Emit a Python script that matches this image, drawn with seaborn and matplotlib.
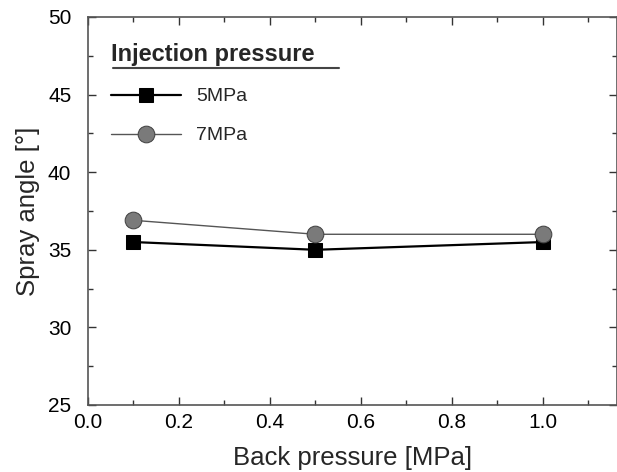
import matplotlib
matplotlib.use("Agg")
import matplotlib.pyplot as plt
import seaborn as sns
import pandas as pd
from matplotlib.ticker import MultipleLocator

back_pressure = [0.1, 0.5, 1.0]
angle_5mpa = [35.5, 35.0, 35.5]
angle_7mpa = [36.9, 36.0, 36.0]
series_labels = ["5MPa", "7MPa"]

sns.set_theme(style="white")
plt.rcParams['font.family'] = ['Liberation Sans', 'DejaVu Sans']

df = pd.DataFrame({
    "x": back_pressure * 2,
    "y": angle_5mpa + angle_7mpa,
    "s": [series_labels[0]] * 3 + [series_labels[1]] * 3,
})

fig = plt.figure(figsize=(6.17, 4.72), dpi=100)
ax = fig.add_axes([88/617, 1 - 405/472, (617-88)/617, (405-17)/472])

sns.lineplot(data=df[df.s == "5MPa"], x="x", y="y", ax=ax, color="black", lw=1.6,
             marker="s", markersize=10, markeredgecolor="black", markerfacecolor="black",
             label="5MPa")
sns.lineplot(data=df[df.s == "7MPa"], x="x", y="y", ax=ax, color="#555555", lw=1.0,
             marker="o", markersize=12, markeredgecolor="#444444", markerfacecolor="#7a7a7a",
             label="7MPa")

ax.set_xlim(0, 1.163)
ax.set_ylim(25, 50)
ax.xaxis.set_major_locator(MultipleLocator(0.2))
ax.xaxis.set_minor_locator(MultipleLocator(0.1))
ax.yaxis.set_major_locator(MultipleLocator(5))
ax.yaxis.set_minor_locator(MultipleLocator(2.5))
ax.xaxis.set_major_formatter(matplotlib.ticker.FormatStrFormatter('%.1f'))
ax.tick_params(which="both", direction="in", top=True, right=True, bottom=True, left=True,
               labelsize=15, colors="#333333", labelcolor="black")
ax.tick_params(axis="x", which="major", pad=6)
ax.tick_params(axis="y", which="major", pad=12)
ax.tick_params(which="major", length=6, width=1)
ax.tick_params(which="minor", length=3.5, width=1)
for sp in ax.spines.values():
    sp.set_color("#555555")
    sp.set_linewidth(1.2)

ax.set_xlabel("Back pressure [MPa]", fontsize=18.5, labelpad=10)
ax.set_ylabel("Spray angle [°]", fontsize=18.5, labelpad=6)

leg = ax.legend(title="Injection pressure", loc="upper left", bbox_to_anchor=(0.01, 0.977),
                frameon=False, labelspacing=1.1, handlelength=3.6, handletextpad=0.8,
                fontsize=14, title_fontproperties={"weight": "bold", "size": 17})
leg._legend_box.align = "left"
ax.plot([0.048, 0.474], [0.868, 0.868], transform=ax.transAxes, color="#444444", lw=1.5)

fig.savefig("out.png", dpi=100)
